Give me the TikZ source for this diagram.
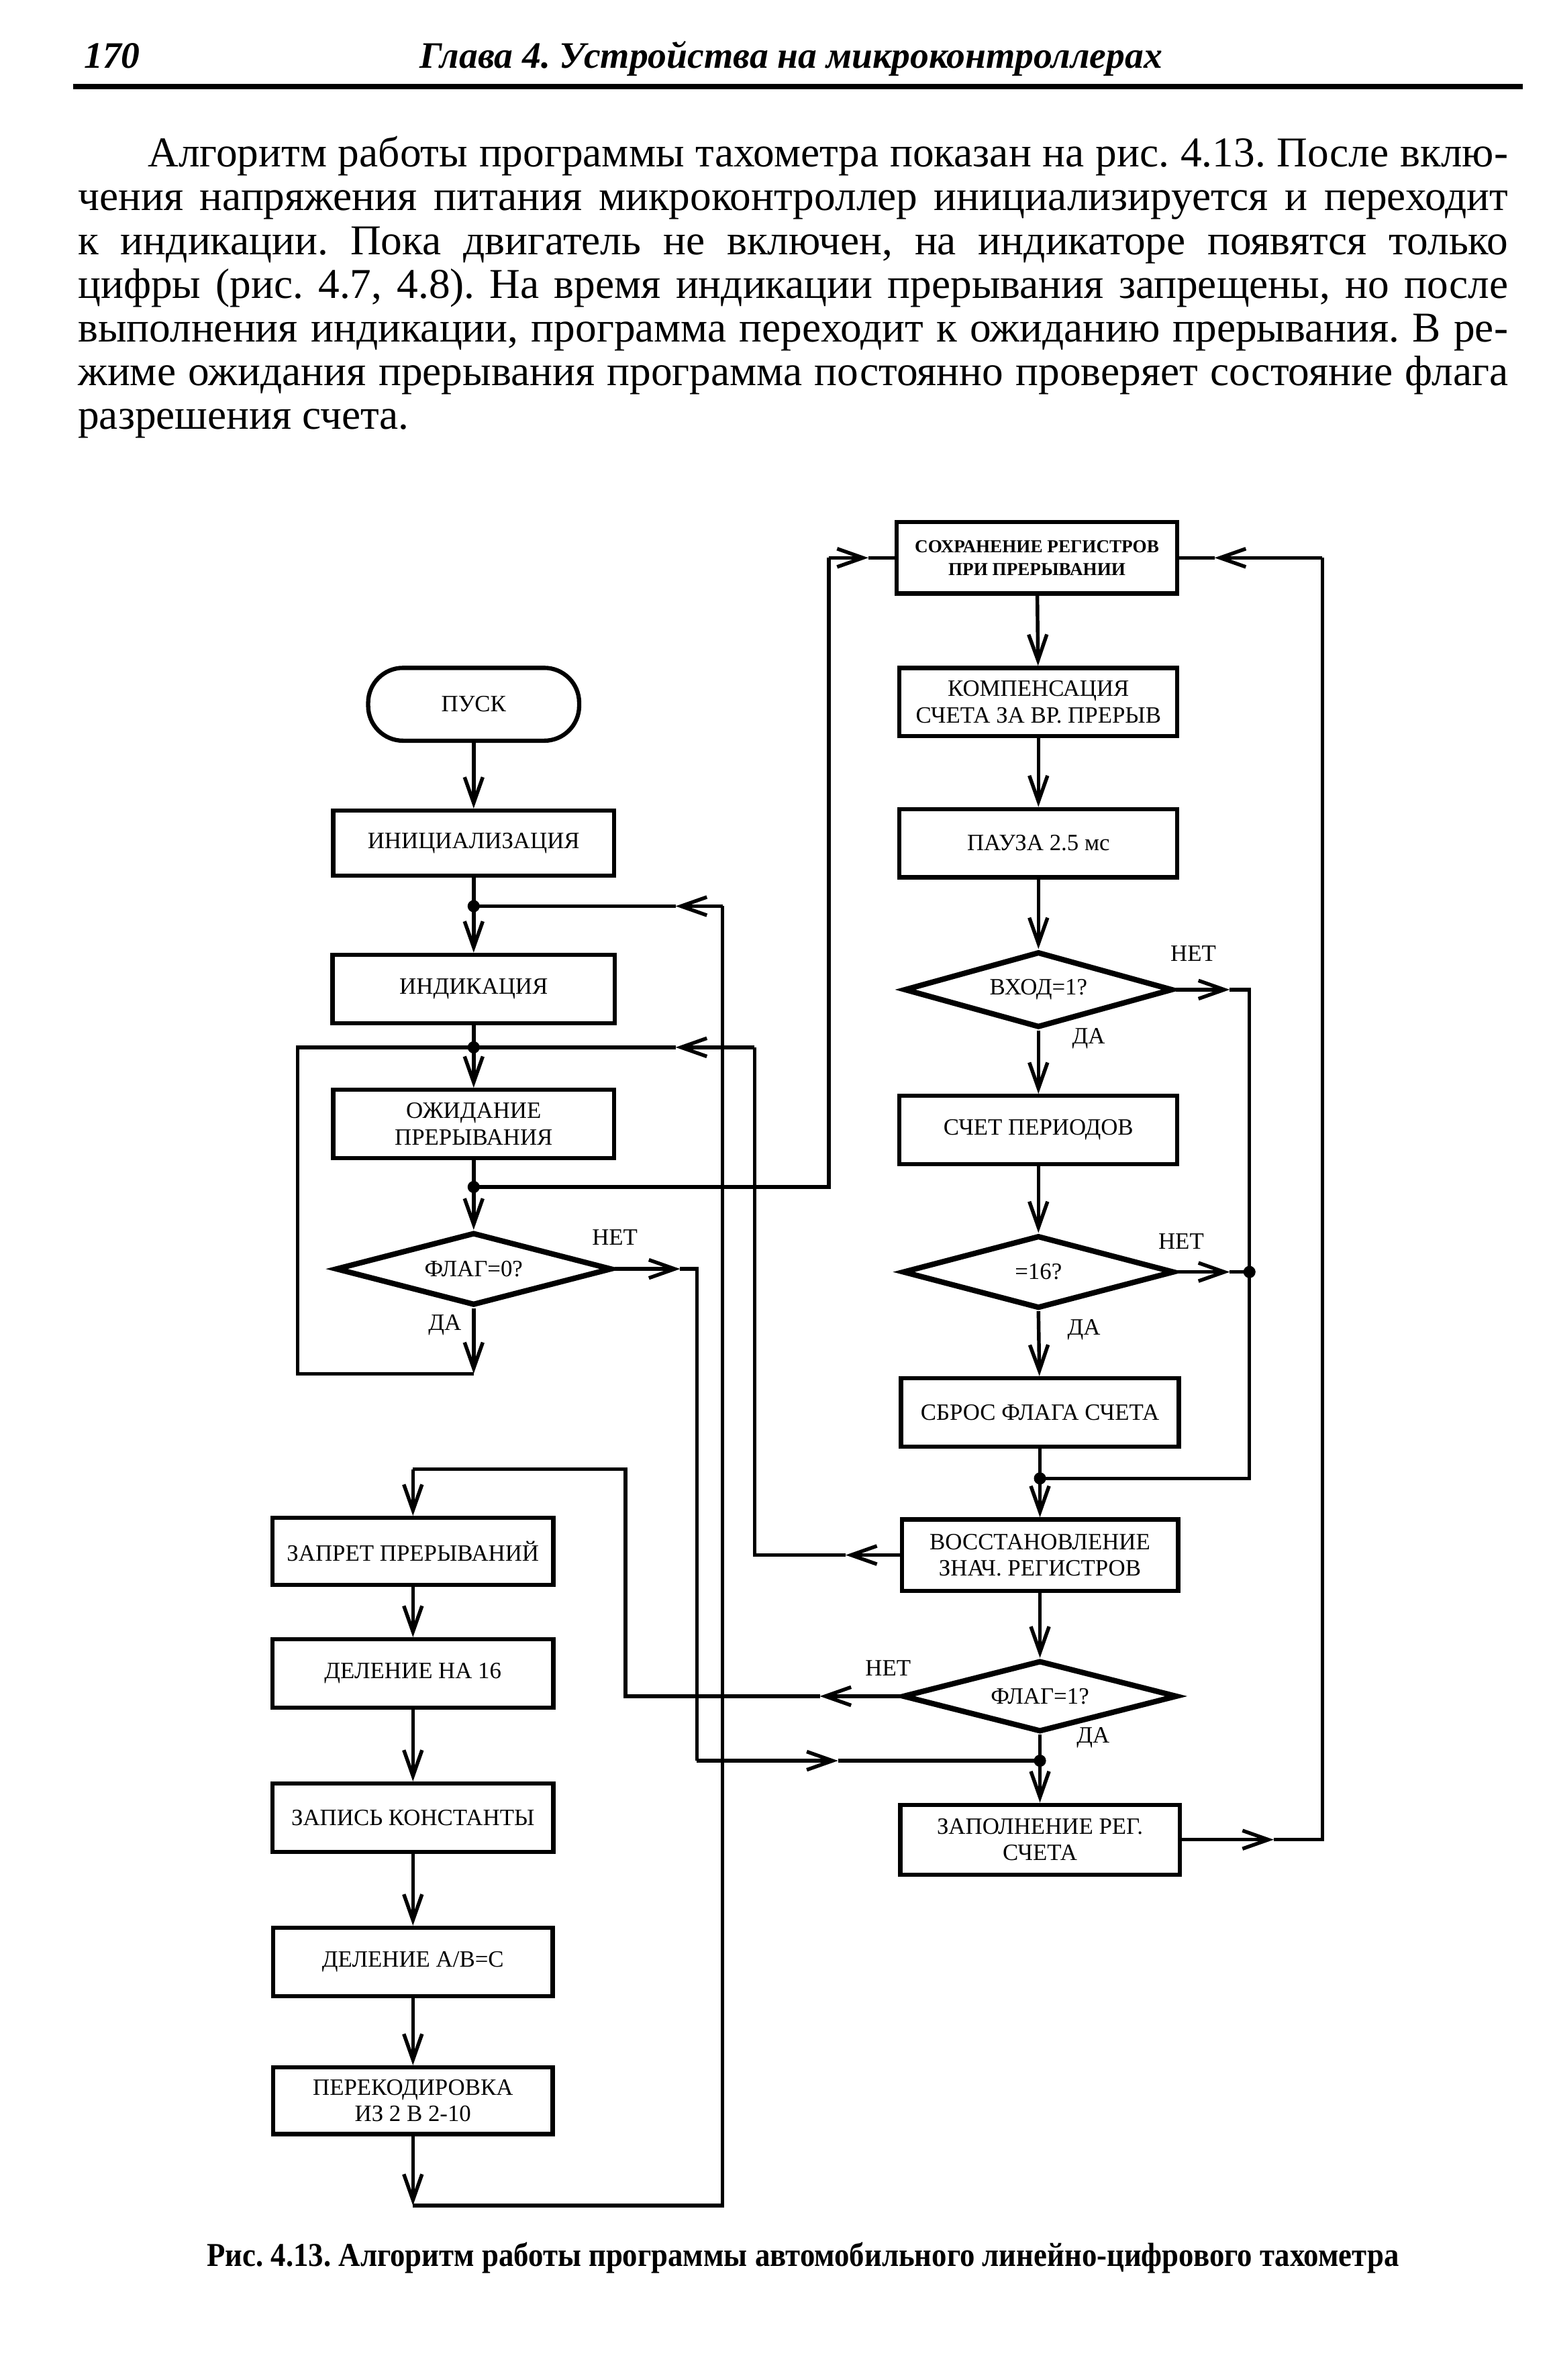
\documentclass[tikz,border=0pt]{standalone}
\usepackage{fontspec}
\setmainfont{Liberation Serif}
\newfontfamily\capfont[FakeStretch=0.9]{Liberation Serif}
\usetikzlibrary{arrows.meta,shapes.geometric}
\frenchspacing
\begin{document}
\begin{tikzpicture}[x=0.5pt,y=-0.5pt,
  ln/.style={line width=1.2pt},
  arr/.style={line width=1.2pt,-{Straight Barb[length=8.5pt,width=6pt]}},
  box/.style={draw,line width=1.4pt,inner sep=0pt,align=center,font=\fontsize{7.7}{8.7}\selectfont},
  term/.style={box,rounded corners=11.5pt},
  dec/.style={draw,diamond,aspect=3.7,line width=1.8pt,inner sep=0pt,font=\fontsize{7.7}{8.7}\selectfont},
  lbl/.style={inner sep=0pt,font=\fontsize{7.7}{8.7}\selectfont},
  jdot/.style={circle,fill,inner sep=0pt,minimum size=4pt},
  para/.style={anchor=base west,inner sep=0pt,font=\fontsize{14}{14}\selectfont},
  hdr/.style={anchor=base,inner sep=0pt,font=\bfseries\itshape\fontsize{12.3}{12.3}\selectfont}
]
\useasboundingbox (0,0) rectangle (1024,1568);
\fill[white] (0,0) rectangle (1024,1568);

% header
\node[hdr,anchor=base west] (pg) at (55,45) {170};
\node[hdr] (hd) at (521,45) {Глава 4. Устройства на микроконтроллерах};
\coordinate (rl) at (48,57); \coordinate (rr) at (1003,57);
\draw[line width=1.8pt] (rl) -- (rr);

% paragraph
\node[para] (p1) at (97,110) {\makebox[448pt][s]{Алгоритм работы программы тахометра показан на рис. 4.13. После вклю-}};
\node[para] (p2) at (51,138.8) {\makebox[471pt][s]{чения напряжения питания микроконтроллер инициализируется и переходит}};
\node[para] (p3) at (51,167.6) {\makebox[471pt][s]{к индикации. Пока двигатель не включен, на индикаторе появятся только}};
\node[para] (p4) at (51,196.4) {\makebox[471pt][s]{цифры (рис. 4.7, 4.8). На время индикации прерывания запрещены, но после}};
\node[para] (p5) at (51,225.2) {\makebox[471pt][s]{выполнения индикации, программа переходит к ожиданию прерывания. В ре-}};
\node[para] (p6) at (51,254) {\makebox[471pt][s]{жиме ожидания прерывания программа постоянно проверяет состояние флага}};
\node[para] (p7) at (51,282.8) {разрешения счета.};

% left column
\node[term,minimum width=69.5pt,minimum height=24pt] (pusk) at (312,464) {ПУСК};
\node[box,minimum width=92.5pt,minimum height=21.5pt] (init) at (312,555.5) {ИНИЦИАЛИЗАЦИЯ};
\node[box,minimum width=93pt,minimum height=22.5pt] (ind) at (312,651.5) {ИНДИКАЦИЯ};
\node[box,minimum width=92.5pt,minimum height=22.5pt] (wait) at (312,740.5) {ОЖИДАНИЕ\\ПРЕРЫВАНИЯ};
\node[dec,minimum width=91pt,minimum height=24pt] (d0) at (312,836) {ФЛАГ=0?};

% right column
\node[box,minimum width=92.5pt,minimum height=23.5pt,font=\bfseries\fontsize{6}{7.5}\selectfont] (save) at (683,367.5) {СОХРАНЕНИЕ РЕГИСТРОВ\\ПРИ ПРЕРЫВАНИИ};
\node[box,minimum width=91.5pt,minimum height=22.5pt] (comp) at (684,462.5) {КОМПЕНСАЦИЯ\\СЧЕТА ЗА ВР. ПРЕРЫВ};
\node[box,minimum width=91.5pt,minimum height=22.5pt] (pause) at (684,555.5) {ПАУЗА 2.5 мс};
\node[dec,minimum width=88.5pt,minimum height=25pt] (din) at (684,652) {ВХОД=1?};
\node[box,minimum width=91.5pt,minimum height=22.5pt] (cnt) at (684,744.5) {СЧЕТ ПЕРИОДОВ};
\node[dec,minimum width=89.5pt,minimum height=24pt] (d16) at (684,838) {=16?};
\node[box,minimum width=91.5pt,minimum height=22.5pt] (rst) at (685,930.5) {СБРОС ФЛАГА СЧЕТА};
\node[box,minimum width=91pt,minimum height=23.5pt] (restore) at (685,1024.5) {ВОССТАНОВЛЕНИЕ\\ЗНАЧ. РЕГИСТРОВ};
\node[dec,minimum width=90.5pt,minimum height=23.5pt] (d1) at (685,1117.5) {ФЛАГ=1?};
\node[box,minimum width=92pt,minimum height=23pt] (fill) at (685,1212) {ЗАПОЛНЕНИЕ РЕГ.\\СЧЕТА};

% lower-left column
\node[box,minimum width=92.5pt,minimum height=22pt] (ban) at (272,1022) {ЗАПРЕТ ПРЕРЫВАНИЙ};
\node[box,minimum width=92.5pt,minimum height=22.5pt] (div16) at (272,1102.5) {ДЕЛЕНИЕ НА 16};
\node[box,minimum width=92.5pt,minimum height=22.5pt] (const) at (272,1197.5) {ЗАПИСЬ КОНСТАНТЫ};
\node[box,minimum width=92pt,minimum height=22.5pt] (divab) at (272,1292.5) {ДЕЛЕНИЕ А/В=С};
\node[box,minimum width=92pt,minimum height=22pt] (recode) at (272,1384) {ПЕРЕКОДИРОВКА\\ИЗ 2 В 2-10};

% labels
\node[lbl] (n0) at (405,815) {НЕТ};
\node[lbl] (y0) at (293,873) {ДА};
\node[lbl] (nin) at (786,628) {НЕТ};
\node[lbl] (yin) at (717,684) {ДА};
\node[lbl] (n16) at (778,818) {НЕТ};
\node[lbl] (y16) at (714,876) {ДА};
\node[lbl] (n1) at (585,1099) {НЕТ};
\node[lbl] (y1) at (720,1145) {ДА};

% coordinates
\coordinate (J1) at (312,597);
\coordinate (J2) at (312,690);
\coordinate (J3) at (312,782);
\coordinate (cda) at (312,905); \coordinate (lpb) at (196,905); \coordinate (lpt) at (196,690);
\coordinate (n0a) at (448,836); \coordinate (n0b) at (459,836); \coordinate (n0c) at (459,1160); \coordinate (n0d) at (552,1160);
\coordinate (Jd1) at (685,1160);
\coordinate (rb) at (272,1453); \coordinate (rc) at (476,1453); \coordinate (rd) at (476,597); \coordinate (ra) at (445,597);
\coordinate (ea) at (557,1024.5); \coordinate (eb) at (497,1024.5); \coordinate (ec) at (497,690); \coordinate (ed) at (445,690);
\coordinate (sa) at (546,782); \coordinate (sb) at (546,367.5); \coordinate (sc) at (572,367.5);
\coordinate (ia) at (810,652); \coordinate (ib) at (823,652); \coordinate (Jr16) at (823,838); \coordinate (ic) at (823,974); \coordinate (Jrst) at (685,974);
\coordinate (ha) at (810,838);
\coordinate (fa) at (540,1117.5); \coordinate (fb) at (412,1117.5); \coordinate (fc) at (412,968); \coordinate (fd) at (272,968);
\coordinate (ga) at (839,1212); \coordinate (gb) at (871,1212); \coordinate (gc) at (871,367.5); \coordinate (gd) at (800,367.5);

% main left flow
\draw[arr] (pusk) -- (init);
\draw[ln] (init) -- (J1); \draw[arr] (J1) -- (ind);
\draw[ln] (ind) -- (J2); \draw[arr] (J2) -- (wait);
\draw[ln] (wait) -- (J3); \draw[arr] (J3) -- (d0);
\draw[arr] (d0.south) -- (cda);
\draw[ln] (cda) -- (lpb) -- (lpt) -- (J2);
\draw[arr] (d0.east) -- (n0a);
\draw[ln] (n0a) -- (n0b) -- (n0c);
\draw[arr] (n0c) -- (n0d);
\draw[ln] (n0d) -- (Jd1);

% feedback to J1 from recode
\draw[arr] (recode) -- (rb);
\draw[ln] (rb) -- (rc) -- (rd);
\draw[arr] (rd) -- (ra);
\draw[ln] (ra) -- (J1);

% feedback to J2 from restore
\draw[arr] (restore.west) -- (ea);
\draw[ln] (ea) -- (eb) -- (ec);
\draw[arr] (ec) -- (ed);
\draw[ln] (ed) -- (J2);

% J3 to save
\draw[ln] (J3) -- (sa) -- (sb);
\draw[arr] (sb) -- (sc);
\draw[ln] (sc) -- (save.west);

% right column
\draw[arr] (save) -- (comp);
\draw[arr] (comp) -- (pause);
\draw[arr] (pause) -- (din);
\draw[arr] (din.south) -- (cnt);
\draw[arr] (cnt) -- (d16);
\draw[arr] (d16.south) -- (rst);
\draw[ln] (rst) -- (Jrst);
\draw[arr] (Jrst) -- (restore);
\draw[arr] (din.east) -- (ia);
\draw[ln] (ia) -- (ib) -- (Jr16) -- (ic) -- (Jrst);
\draw[arr] (d16.east) -- (ha);
\draw[ln] (ha) -- (Jr16);
\draw[arr] (restore) -- (d1);
\draw[ln] (d1.south) -- (Jd1);
\draw[arr] (Jd1) -- (fill);
\draw[arr] (d1.west) -- (fa);
\draw[ln] (fa) -- (fb) -- (fc) -- (fd);
\draw[arr] (fd) -- (ban);
\draw[arr] (fill.east) -- (ga);
\draw[ln] (ga) -- (gb) -- (gc);
\draw[arr] (gc) -- (gd);
\draw[ln] (gd) -- (save.east);

% lower-left column
\draw[arr] (ban) -- (div16);
\draw[arr] (div16) -- (const);
\draw[arr] (const) -- (divab);
\draw[arr] (divab) -- (recode);

% junction dots
\node[jdot] (dJ1) at (J1) {};
\node[jdot] (dJ2) at (J2) {};
\node[jdot] (dJ3) at (J3) {};
\node[jdot] (dJr16) at (Jr16) {};
\node[jdot] (dJrst) at (Jrst) {};
\node[jdot] (dJd1) at (Jd1) {};

% caption
\node[anchor=base,inner sep=0pt,font=\capfont\bfseries\fontsize{11}{11}\selectfont] (cap) at (529,1493) {Рис. 4.13. Алгоритм работы программы автомобильного линейно-цифрового тахометра};
\end{tikzpicture}
\end{document}
